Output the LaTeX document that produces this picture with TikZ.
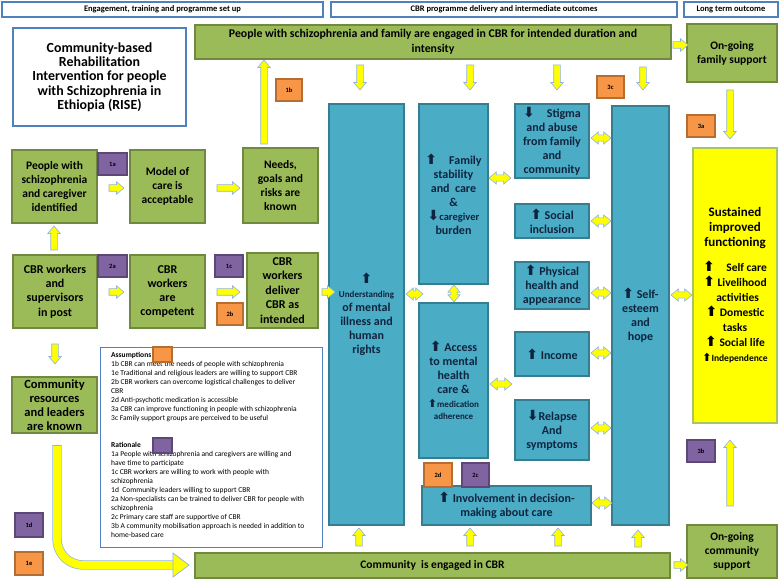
\documentclass[tikz,border=0pt]{standalone}
\usepackage{fontspec}
\setmainfont{Carlito}
\newfontfamily\symf{DejaVu Sans}
\usetikzlibrary{shapes.arrows}
\definecolor{gfill}{HTML}{9BBB59}
\definecolor{gdraw}{HTML}{71893F}
\definecolor{bfill}{HTML}{4BACC6}
\definecolor{bdraw}{HTML}{357D91}
\definecolor{btext}{HTML}{0F243E}
\definecolor{ofill}{HTML}{F79646}
\definecolor{odraw}{HTML}{B66D31}
\definecolor{pfill}{HTML}{8064A2}
\definecolor{pdraw}{HTML}{5C4776}
\definecolor{afill}{HTML}{FFFF00}
\definecolor{adraw}{HTML}{8EB4E3}
\definecolor{hdraw}{HTML}{4F81BD}
\definecolor{ydraw}{HTML}{A9C462}
\newcommand\UA{{\symf\bfseries\fontsize{14}{11}\selectfont ⬆}}
\newcommand\DA{{\symf\bfseries\fontsize{14}{11}\selectfont ⬇}}
\newcommand\UAs{{\symf\bfseries\fontsize{11}{9.5}\selectfont ⬆}}
\newcommand\mybox[7]{\node[#2, minimum width={(#5)-(#3)}, minimum height={(#6)-(#4)}] (#1) at ({((#3)+(#5))/2},{((#4)+(#6))/2}) {#7};}
\newcommand\ArR[4]{\node[sarr, minimum height={(#3)-(#2)}] (#1) at ({((#2)+(#3))/2},#4) {};}
\newcommand\ArU[4]{\node[sarr, rotate=90, minimum height={(#4)-(#3)}] (#1) at (#2,{((#3)+(#4))/2}) {};}
\newcommand\ArD[4]{\node[sarr, rotate=-90, minimum height={(#4)-(#3)}] (#1) at (#2,{((#3)+(#4))/2}) {};}
\newcommand\ArH[4]{\node[darr, minimum height={(#3)-(#2)}] (#1) at ({((#2)+(#3))/2},#4) {};}
\newcommand\ArV[4]{\node[darr, rotate=90, minimum height={(#4)-(#3)}] (#1) at (#2,{((#3)+(#4))/2}) {};}
\begin{document}
\begin{tikzpicture}[x=1pt,y=-1pt,
  gbox/.style={draw=gdraw, fill=gfill, line width=1.5pt, align=center, inner sep=0pt,
    font=\bfseries\fontsize{11.5}{14}\selectfont},
  bbox/.style={draw=bdraw, fill=bfill, line width=1.5pt, align=center, inner sep=0pt, text=btext,
    font=\bfseries\fontsize{12}{14}\selectfont},
  hbox/.style={draw=hdraw, fill=white, line width=1.2pt, align=center, inner sep=0pt,
    font=\bfseries\fontsize{8.5}{10}\selectfont},
  badge/.style={line width=1.2pt, inner sep=0pt, font=\bfseries\fontsize{6.5}{7}\selectfont},
  obadge/.style={badge, fill=ofill, draw=odraw},
  pbadge/.style={badge, fill=pfill, draw=pdraw},
  sarr/.style={single arrow, fill=afill, draw=adraw, line width=0.6pt, inner xsep=0pt, inner ysep=3pt,
    minimum width=12pt, single arrow head extend=3pt, single arrow tip angle=80},
  darr/.style={double arrow, fill=afill, draw=adraw, line width=0.6pt, inner xsep=0pt, inner ysep=2.8pt,
    minimum width=12pt, double arrow head extend=3pt, double arrow tip angle=80}]
\useasboundingbox (0,0) rectangle (780,580);
\fill[white] (0,0) rectangle (780,580);
% headers
\mybox{h1}{hbox}{2}{2}{323}{17}{Engagement, training and programme set up}
\mybox{h2}{hbox}{331}{2}{677}{17}{CBR programme delivery and intermediate outcomes}
\mybox{h3}{hbox}{684}{2}{778}{17}{Long term outcome}
% title
\mybox{title}{draw=hdraw, fill=white, line width=2pt, align=center, inner sep=0pt, font=\bfseries\fontsize{13.9}{14.3}\selectfont}{13}{28}{186}{126}{Community-based\\ Rehabilitation\\ Intervention for people\\ with Schizophrenia in\\ Ethiopia (RISE)}
% green boxes
\mybox{top}{gbox, font=\bfseries\fontsize{11.8}{15}\selectfont}{195}{25}{671}{59}{People with schizophrenia and family are engaged in CBR for intended duration and\\ intensity}
\mybox{famsup}{gbox}{687}{24}{777}{82}{On-going\\ family support}
\mybox{p1}{gbox}{12}{150}{97}{223}{People with\\ schizophrenia\\ and caregiver\\ identified}
\mybox{model}{gbox}{130}{150}{205}{223}{Model of\\ care is\\ acceptable}
\mybox{needs}{gbox}{243}{148}{318}{223}{Needs,\\ goals and\\ risks are\\ known}
\mybox{workers}{gbox, font=\bfseries\fontsize{12}{14.2}\selectfont}{13}{255}{97}{328}{CBR workers\\ and\\ supervisors\\ in post}
\mybox{compet}{gbox, font=\bfseries\fontsize{12}{14.2}\selectfont}{130}{255}{205}{328}{CBR\\ workers\\ are\\ competent}
\mybox{deliver}{gbox, font=\bfseries\fontsize{12}{14.5}\selectfont}{247}{253}{318}{328}{CBR\\ workers\\ deliver\\ CBR as\\ intended}
\mybox{resources}{gbox, font=\bfseries\fontsize{12.5}{14}\selectfont}{12}{377}{97}{433}{Community\\ resources\\ and leaders\\ are known}
\mybox{bottom}{gbox}{195}{553}{670}{578}{Community\ \ is engaged in CBR}
\mybox{comsup}{gbox}{687}{525}{777}{578}{On-going\\ community\\ support}
% blue boxes
\mybox{under}{bbox}{329}{104}{404}{525}{\UA\\ {\fontsize{9}{11}\selectfont Understanding}\\ of mental\\ illness and\\ human\\ rights}
\mybox{family}{bbox}{419}{104}{488}{284}{\UA\quad Family\\ stability\\ and\ \ care\\ \&\\ \DA{\fontsize{10.5}{14}\selectfont caregiver}\\ burden}
\mybox{access}{bbox}{419}{303}{488}{458}{\UA\ Access\\ to mental\\ health\\ care \&\\ {\fontsize{9}{11}\selectfont\UAs medication}\\[-2pt] {\fontsize{9}{11}\selectfont adherence}}
\mybox{stigma}{bbox}{515}{104}{589}{178}{\DA\quad Stigma\\ and abuse\\ from family\\ and\\ community}
\mybox{social}{bbox}{515}{204}{589}{238}{\UA\ Social\\ inclusion}
\mybox{phys}{bbox}{515}{262}{589}{309}{\UA\ Physical\\ health and\\ appearance}
\mybox{income}{bbox}{515}{332}{589}{376}{\UA\ Income}
\mybox{relapse}{bbox}{515}{400}{589}{460}{\DA Relapse\\ And\\ symptoms}
\mybox{involve}{bbox}{422}{486}{591}{525}{\UA\ Involvement in decision-\\ making about care}
\mybox{self}{bbox}{612}{106}{669}{525}{\UA\ Self-\\ esteem\\ and\\ hope}
% yellow outcome
\mybox{sustain}{draw=ydraw, fill=afill, line width=1.5pt, align=center, inner sep=0pt, font=\bfseries\fontsize{13}{15}\selectfont}{693}{148}{777}{423}{Sustained\\ improved\\ functioning\\[10pt] {\fontsize{11.5}{13.5}\selectfont\UA\quad Self care}\\ {\fontsize{11.5}{13.5}\selectfont\UA\ Livelihood}\\ {\fontsize{11.5}{13.5}\selectfont \ \ activities}\\ {\fontsize{11.5}{13.5}\selectfont\UA\ Domestic}\\ {\fontsize{11.5}{13.5}\selectfont tasks}\\ {\fontsize{11.5}{13.5}\selectfont\UA\ Social life}\\ {\fontsize{9.5}{12}\selectfont\UAs Independence}}
% assumptions
\mybox{assum}{draw=hdraw, fill=white, line width=0.8pt, inner sep=0pt}{100}{347}{322}{547}{}
\node[anchor=north west, inner sep=0pt, align=left, font=\fontsize{7.5}{9}\selectfont] (asstext) at (111,352) {\textbf{Assumptions}\\ 1b CBR can meet the needs of people with schizophrenia\\ 1e Traditional and religious leaders are willing to support CBR\\ 2b CBR workers can overcome logistical challenges to deliver\\ CBR\\ 2d Anti-psychotic medication is accessible\\ 3a CBR can improve functioning in people with schizophrenia\\ 3c Family support groups are perceived to be useful\\[18pt] \textbf{Rationale}\\ 1a People with schizophrenia and caregivers are willing and\\ have time to participate\\ 1c CBR workers are willing to work with people with\\ schizophrenia\\ 1d\ \ Community leaders willing to support CBR\\ 2a Non-specialists can be trained to deliver CBR for people with\\ schizophrenia\\ 2c Primary care staff are supportive of CBR\\ 3b A community mobilisation approach is needed in addition to\\ home-based care};
\mybox{asq}{obadge}{153}{347}{172}{362}{}
\mybox{raq}{pbadge}{153}{438}{172}{453}{}
% badges
\mybox{b1b}{obadge}{276}{79}{302}{101}{1b}
\mybox{b1a}{pbadge}{98}{153}{127}{175}{1a}
\mybox{b2a}{pbadge}{98}{255}{127}{277}{2a}
\mybox{b1c}{pbadge}{215}{255}{243}{277}{1c}
\mybox{b2b}{obadge}{217}{303}{243}{325}{2b}
\mybox{b3c}{obadge}{597}{76}{624}{98}{3c}
\mybox{b3a}{obadge}{687}{115}{715}{137}{3a}
\mybox{b3b}{pbadge}{687}{440}{715}{462}{3b}
\mybox{b2d}{obadge}{424}{463}{452}{487}{2d}
\mybox{b2c}{pbadge}{462}{463}{489}{487}{2c}
\mybox{b1d}{pbadge}{15}{513}{43}{537}{1d}
\mybox{b1e}{obadge}{15}{552}{43}{575}{1e}
% arrows
\ArR{a1}{107}{122}{188}
\ArR{a2}{215}{238}{188}
\ArR{a3}{107}{122}{292}
\ArR{a4}{215}{238}{292}
\ArR{a5}{320}{333}{292}
\ArR{a6}{671}{686}{45}
\ArR{a7}{672}{686}{565}
\ArU{u1}{54}{228}{252}
\ArU{u2}{264}{62}{146}
\ArU{u3}{359}{530}{548}
\ArU{u4}{470}{530}{548}
\ArU{u5}{558}{530}{548}
\ArU{u6}{638}{532}{549}
\ArU{u7}{730}{442}{508}
\ArD{d1}{55}{342}{362}
\ArD{d2}{360}{63}{88}
\ArD{d3}{470}{63}{88}
\ArD{d4}{557}{63}{88}
\ArD{d5}{643}{65}{88}
\ArD{d6}{730}{88}{137}
\ArH{h1}{406}{423}{294}
\ArH{h2}{489}{511}{178}
\ArH{h3}{490}{512}{384}
\ArH{h4}{591}{611}{138}
\ArH{h5}{591}{611}{221}
\ArH{h6}{591}{611}{293}
\ArH{h7}{591}{611}{353}
\ArH{h8}{591}{611}{428}
\ArH{h9}{592}{612}{503}
\ArH{h10}{671}{692}{295}
\ArV{v1}{454}{285}{302}
% curved arrow from community resources to community engaged
\coordinate (cstart) at (57,445);
\coordinate (cend) at (175,565);
\draw[draw=adraw, line width=0.7pt, double=afill, double distance=8pt]
  (cstart) -- (57,539) .. controls (57,553.4) and (68.6,565) .. (83,565) -- (cend);
\draw[adraw, line width=0.7pt] (52.6,445) -- (61.4,445);
\filldraw[fill=afill, draw=adraw, line width=0.7pt] (173,553) -- (189,565) -- (173,577) -- cycle;
\end{tikzpicture}
\end{document}
